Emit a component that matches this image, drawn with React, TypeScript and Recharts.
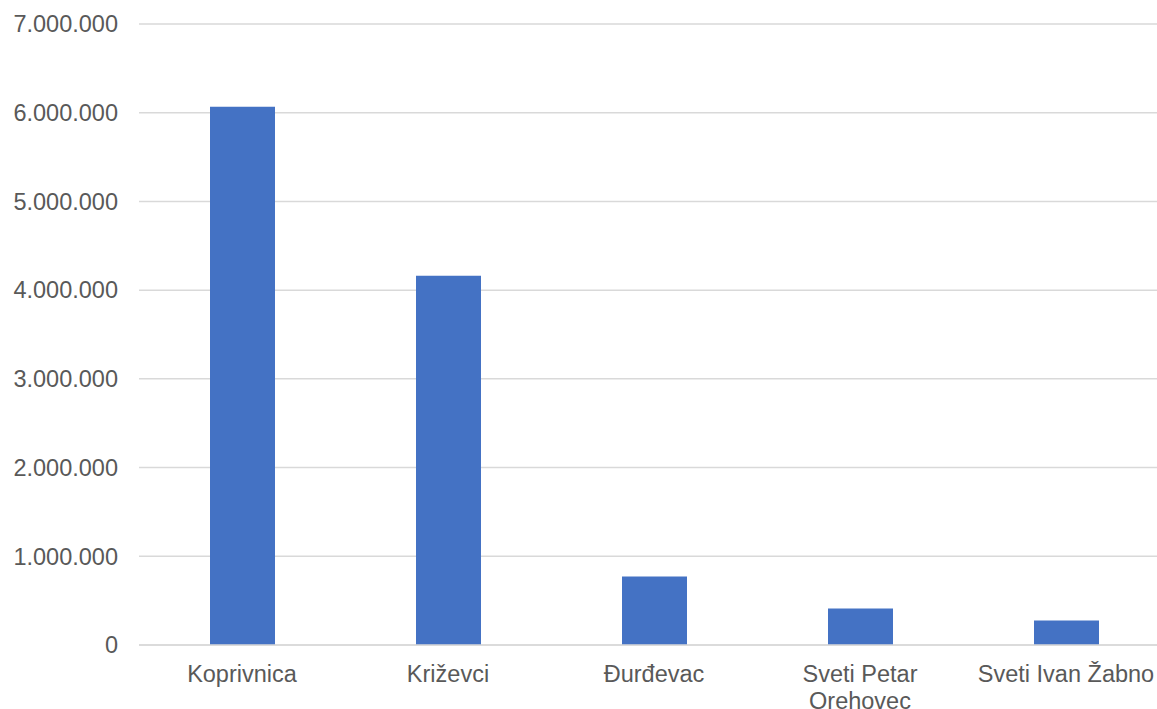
import React from 'react';
import { BarChart, Bar, XAxis, YAxis, CartesianGrid } from 'recharts';

const CATEGORIES = ['Koprivnica', 'Križevci', 'Đurđevac', 'Sveti Petar Orehovec', 'Sveti Ivan Žabno'];
const VALUES = [6067000, 4161000, 773000, 412000, 276000];
const Y_TICKS = [0, 1000000, 2000000, 3000000, 4000000, 5000000, 6000000, 7000000];

const FONT = '"Liberation Sans", Arial, sans-serif';
const FONT_SIZE = 23.5;
const TEXT_COLOR = '#595959';

const data = CATEGORIES.map((name, i) => ({ name, value: VALUES[i] }));

const formatNumber = (v: number) => String(v).replace(/\B(?=(\d{3})+(?!\d))/g, '.');

// word wrap a label to a max pixel width
let ctx: CanvasRenderingContext2D | null = null;
const wrap = (label: string, maxWidth: number) => {
  if (!ctx) {
    ctx = document.createElement('canvas').getContext('2d');
  }
  if (!ctx) return [label];
  ctx.font = `${FONT_SIZE}px ${FONT}`;
  const lines: string[] = [];
  let line = '';
  label.split(' ').forEach(word => {
    const test = line ? `${line} ${word}` : word;
    if (line && ctx!.measureText(test).width > maxWidth) {
      lines.push(line);
      line = word;
    } else {
      line = test;
    }
  });
  if (line) lines.push(line);
  return lines;
};

const CategoryTick = (props: any) => {
  const { x, y, payload } = props;
  const lines = wrap(payload.value, 200);
  return (
    <text
      x={x}
      y={y + 37}
      textAnchor="middle"
      fill={TEXT_COLOR}
      style={{ fontSize: FONT_SIZE, fontFamily: FONT }}
    >
      {lines.map((l, i) => (
        <tspan key={i} x={x} dy={i === 0 ? 0 : 26.5}>
          {l}
        </tspan>
      ))}
    </text>
  );
};

export default function App() {
  return (
    <div
      style={{
        position: 'absolute',
        left: 0,
        top: 0,
        width: 1157,
        height: 709,
        overflow: 'hidden',
        background: '#fff',
      }}
    >
      <BarChart
        width={1175}
        height={709}
        data={data}
        margin={{ top: 24, right: 6, left: 0, bottom: 0 }}
      >
        <CartesianGrid vertical={false} stroke="#d9d9d9" strokeWidth={1.5} />
        <XAxis
          dataKey="name"
          height={64}
          axisLine={{ stroke: '#d9d9d9', strokeWidth: 1.5 }}
          tickLine={false}
          tickSize={0}
          tickMargin={0}
          interval={0}
          tick={<CategoryTick />}
        />
        <YAxis
          width={139}
          domain={[0, 7000000]}
          ticks={Y_TICKS}
          axisLine={false}
          tickLine={false}
          tickSize={0}
          tickMargin={21}
          tickFormatter={formatNumber}
          tick={{ fill: TEXT_COLOR, fontSize: FONT_SIZE, fontFamily: FONT }}
        />
        <Bar dataKey="value" fill="#4472C4" barSize={65} isAnimationActive={false} />
      </BarChart>
    </div>
  );
}
